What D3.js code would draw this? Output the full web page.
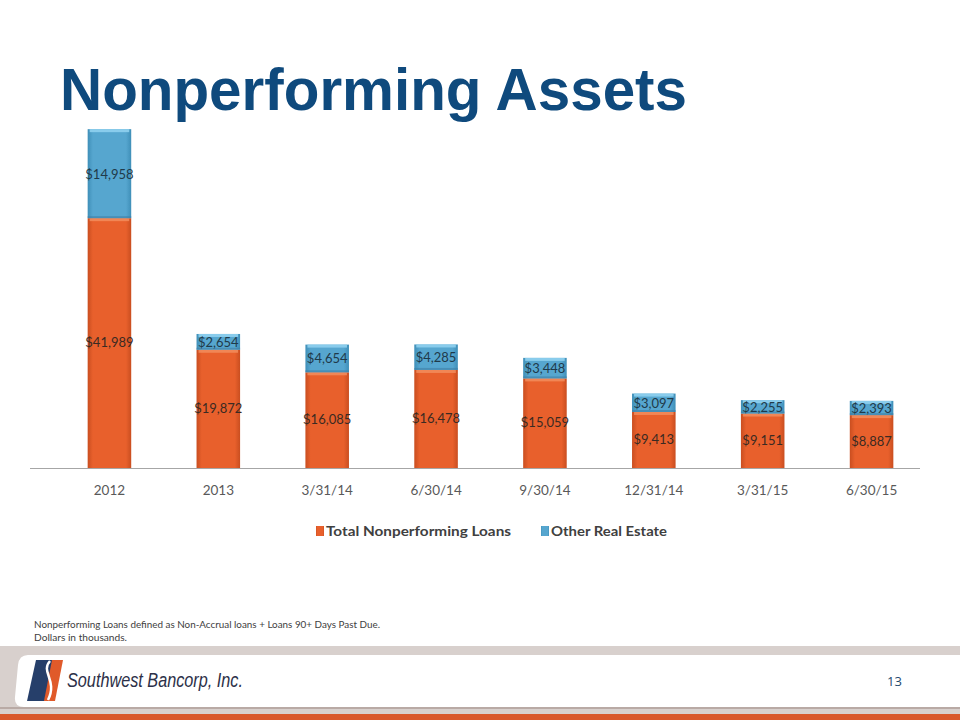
<!DOCTYPE html>
<html><head><meta charset="utf-8">
<script src="https://cdn.jsdelivr.net/npm/d3@7/dist/d3.min.js"></script>
<style>body{margin:0;background:#fff}svg{display:block}</style>
</head><body>
<svg id="c" width="960" height="720"></svg>
<script>
const categories = ["2012","2013","3/31/14","6/30/14","9/30/14","12/31/14","3/31/15","6/30/15"];
const loans = [41989,19872,16085,16478,15059,9413,9151,8887];
const oreo = [14958,2654,4654,4285,3448,3097,2255,2393];
const seriesNames = ["Total Nonperforming Loans","Other Real Estate"];

const svg = d3.select("#c");
const defs = svg.append("defs");
function grad(id, edge, mid){
  const g = defs.append("linearGradient").attr("id",id).attr("x1","0").attr("x2","1").attr("y1","0").attr("y2","0");
  g.append("stop").attr("offset","0").attr("stop-color",edge);
  g.append("stop").attr("offset","0.12").attr("stop-color",mid);
  g.append("stop").attr("offset","0.88").attr("stop-color",mid);
  g.append("stop").attr("offset","1").attr("stop-color",edge);
}
grad("gO","#c94e20","#e8602c");
grad("gB","#3f8fb8","#56a6cf");

// Title
svg.append("text").attr("x",60).attr("y",110).attr("font-family","Liberation Sans, Arial, sans-serif")
  .attr("font-weight","bold").attr("font-size",60).attr("fill","#0f4a7d")
  .attr("textLength",627).attr("lengthAdjust","spacingAndGlyphs").text("Nonperforming Assets");

const x = d3.scaleBand().domain(categories).range([55,926]).paddingInner(0.6).paddingOuter(0.3);
const y = d3.scaleLinear().domain([0,60000]).range([468,111]);

const g = svg.append("g");
const data = categories.map((c,i)=>({c, a:loans[i], b:oreo[i]}));

// bars
const bw = x.bandwidth();
data.forEach(d=>{
  const x0 = x(d.c);
  g.append("rect").attr("x",x0).attr("y",y(d.a)).attr("width",bw).attr("height",y(0)-y(d.a)).attr("fill","url(#gO)");
  g.append("rect").attr("x",x0+2).attr("y",y(d.a)).attr("width",bw-4).attr("height",3).attr("fill","#f39060").attr("opacity",0.8);
  g.append("rect").attr("x",x0).attr("y",y(d.a+d.b)).attr("width",bw).attr("height",y(d.a)-y(d.a+d.b)).attr("fill","url(#gB)");
  g.append("rect").attr("x",x0+2).attr("y",y(d.a+d.b)).attr("width",bw-4).attr("height",3).attr("fill","#8fd0ee").attr("opacity",0.9);
  g.append("rect").attr("x",x0).attr("y",y(d.a)-2).attr("width",bw).attr("height",2).attr("fill","#3d7fa5").attr("opacity",0.6);
});

// axis
const ax = svg.append("g").attr("transform","translate(0,468)").call(d3.axisBottom(x).tickSize(0).tickPadding(17));
ax.select(".domain").attr("stroke","#a6a6a6").attr("d","M30,0.5H920");
ax.selectAll("text").attr("font-family","Lato, Open Sans, sans-serif").attr("font-size",13.5).attr("fill","#595959");

// labels
const fmt = v => "$" + d3.format(",")(v);
data.forEach(d=>{
  const cx = x(d.c)+bw/2;
  g.append("text").attr("x",cx).attr("y",(y(d.a)+y(0))/2+4).attr("text-anchor","middle")
    .attr("font-family","Lato, Open Sans, sans-serif").attr("font-size",13).attr("fill","#3a2a22").text(fmt(d.a));
  g.append("text").attr("x",cx).attr("y",(y(d.a)+y(d.a+d.b))/2+5).attr("text-anchor","middle")
    .attr("font-family","Lato, Open Sans, sans-serif").attr("font-size",13).attr("fill","#1f3a4a").text(fmt(d.b));
});

// legend
const lg = svg.append("g");
const legendItems = [{n:seriesNames[0],f:"url(#gO)",x:316,w:185},{n:seriesNames[1],f:"url(#gB)",x:541,w:116}];
legendItems.forEach(it=>{
  lg.append("rect").attr("x",it.x).attr("y",526).attr("width",8).attr("height",10).attr("fill",it.f);
  lg.append("text").attr("x",it.x+10).attr("y",536).attr("font-family","Lato, Open Sans, sans-serif").attr("font-weight","bold")
    .attr("font-size",14).attr("fill","#404040").attr("textLength",it.w).attr("lengthAdjust","spacingAndGlyphs").text(it.n);
});

// footnote
svg.append("text").attr("x",34).attr("y",628).attr("font-family","Lato, Open Sans, sans-serif").attr("font-size",9.5).attr("fill","#404040")
  .attr("textLength",346).attr("lengthAdjust","spacingAndGlyphs")
  .text("Nonperforming Loans defined as Non-Accrual loans + Loans 90+ Days Past Due.");
svg.append("text").attr("x",34).attr("y",641).attr("font-family","Lato, Open Sans, sans-serif").attr("font-size",9.5).attr("fill","#404040")
  .attr("textLength",93).attr("lengthAdjust","spacingAndGlyphs")
  .text("Dollars in thousands.");

// footer
svg.append("rect").attr("x",0).attr("y",646).attr("width",960).attr("height",69).attr("fill","#d8d0cd");
svg.append("path").attr("d","M24,655 H960 V707 H24 Q14,707 15,697 L18,665 Q19,655 28,655 Z").attr("fill","#ffffff");
svg.append("rect").attr("x",0).attr("y",707).attr("width",960).attr("height",2).attr("fill","#b9aaa5");
svg.append("rect").attr("x",0).attr("y",714).attr("width",960).attr("height",6).attr("fill","#d9582b");
// logo
svg.append("path").attr("d","M36,660 L56,660 L48,701 L27,701 Z").attr("fill","#263f6a");
svg.append("path").attr("d","M52,660 L63,660 L55,701 L44,701 Z").attr("fill","#e05a2a");
svg.append("path").attr("d","M50,661 C40,672 58,680 48,700").attr("fill","none").attr("stroke","#ffffff").attr("stroke-width",2.5);
svg.append("text").attr("x",67).attr("y",687).attr("font-family","Liberation Sans, Arial, sans-serif").attr("font-style","italic")
  .attr("font-size",20).attr("fill","#2c3048").attr("textLength",176).attr("lengthAdjust","spacingAndGlyphs").text("Southwest Bancorp, Inc.");
svg.append("text").attr("x",887).attr("y",686).attr("font-family","Open Sans, sans-serif").attr("font-size",13).attr("fill","#1f4a6e").text("13");
</script>
</body></html>
